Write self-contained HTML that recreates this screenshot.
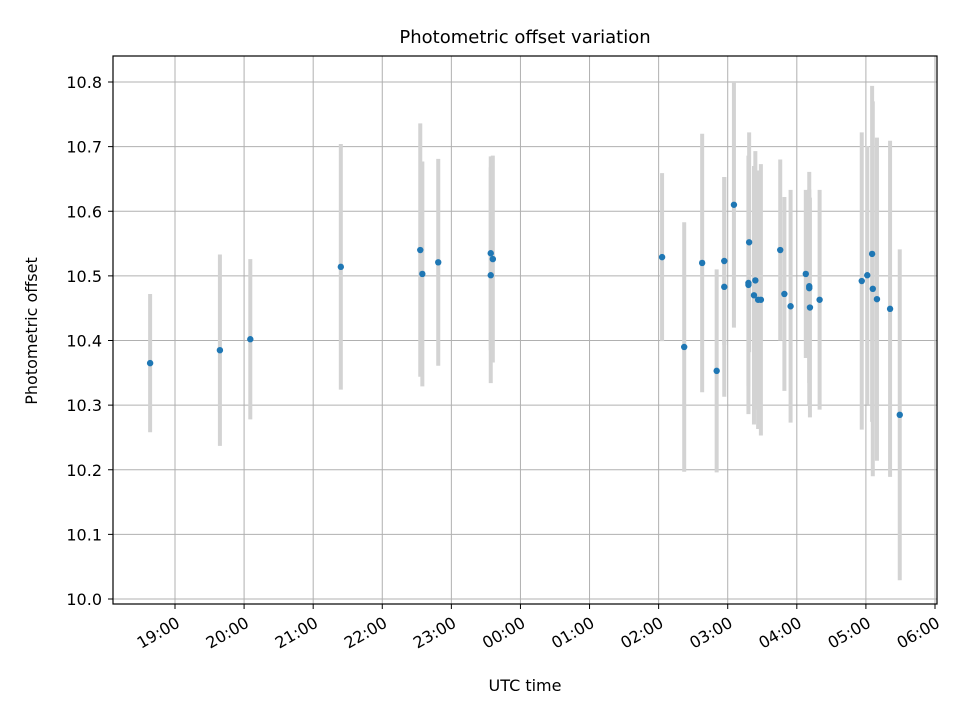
<!DOCTYPE html>
<html><head><meta charset="utf-8"><style>
body{margin:0;background:#fff;}
svg{display:block;font-family:"DejaVu Sans","Liberation Sans",sans-serif;}
</style></head><body>
<svg id="chart" width="960" height="720" viewBox="0 0 960 720">
<rect x="0" y="0" width="960" height="720" fill="#fff"/>
<text x="525" y="43" font-size="18" text-anchor="middle">Photometric offset variation</text>
<text x="525" y="691" font-size="16" text-anchor="middle">UTC time</text>
<text x="37" y="331" font-size="16" text-anchor="middle" transform="rotate(-90 37 331)">Photometric offset</text>
<g id="grid"></g><g id="errs"></g><g id="pts"></g><g id="axes"></g>
</svg>
<script>
const times=[18.64,19.65,20.09,21.40,22.55,22.58,22.81,23.57,23.57,23.60,26.05,26.37,26.63,26.84,26.95,26.95,27.09,27.31,27.30,27.30,27.40,27.38,27.44,27.48,27.76,27.82,27.91,28.13,28.18,28.18,28.19,28.33,28.94,29.02,29.09,29.10,29.16,29.35,29.49];
const values=[10.365,10.385,10.402,10.514,10.540,10.503,10.521,10.535,10.501,10.526,10.529,10.390,10.520,10.353,10.523,10.483,10.610,10.552,10.489,10.486,10.493,10.470,10.463,10.463,10.540,10.472,10.453,10.503,10.484,10.481,10.451,10.463,10.492,10.501,10.534,10.480,10.464,10.449,10.285];
const errors=[0.107,0.148,0.124,0.190,0.196,0.174,0.160,0.150,0.167,0.160,0.130,0.193,0.200,0.157,0.130,0.170,0.190,0.170,0.160,0.200,0.200,0.200,0.200,0.210,0.140,0.150,0.180,0.130,0.150,0.180,0.170,0.170,0.230,0.200,0.260,0.290,0.250,0.260,0.256];
const xTickLabels=["19:00","20:00","21:00","22:00","23:00","00:00","01:00","02:00","03:00","04:00","05:00","06:00"];
const xTickHours=[19,20,21,22,23,24,25,26,27,28,29,30];
const yTicks=[10.0,10.1,10.2,10.3,10.4,10.5,10.6,10.7,10.8];
const L=113,R=937,T=56,B=604;
const xs=h=>175+(h-19)*69.09;
const ys=v=>599-(v-10.0)*646.25;
const NS="http://www.w3.org/2000/svg";
function mk(tag,attrs,parent){const e=document.createElementNS(NS,tag);for(const k in attrs)e.setAttribute(k,attrs[k]);document.getElementById(parent).appendChild(e);return e;}
xTickHours.forEach((h,i)=>{
 const x=xs(h);
 const g=mk('line',{x1:x,x2:x,y1:T,y2:B,stroke:'#b0b0b0','stroke-width':1},'grid');
 
 
 const t=mk('line',{x1:x,x2:x,y1:B,y2:B+5,stroke:'#000','stroke-width':1},'axes');
 
 
 const ax=x+6, ay=B+22;
 const lb=mk('text',{x:ax,y:ay,'font-size':16,'text-anchor':'end',transform:`rotate(-30 ${ax} ${ay})`},'axes');
 lb.textContent=xTickLabels[i];
 
 
});
yTicks.forEach(v=>{
 const y=ys(v);
 const g=mk('line',{x1:L,x2:R,y1:y,y2:y,stroke:'#b0b0b0','stroke-width':1},'grid');
 
 
 const t=mk('line',{x1:L-5,x2:L,y1:y,y2:y,stroke:'#000','stroke-width':1},'axes');
 
 
 const lb=mk('text',{x:L-11,y:y+6,'font-size':16,'text-anchor':'end'},'axes');
 lb.textContent=v.toFixed(1);
 
 
});
const fr=mk('rect',{x:L,y:T,width:R-L,height:B-T,fill:'none',stroke:'#000','stroke-width':1.2},'axes');


times.forEach((h,i)=>{
 const x=xs(h);
 const e=mk('line',{x1:x,x2:x,y1:ys(values[i]+errors[i]),y2:ys(values[i]-errors[i]),stroke:'#d3d3d3','stroke-width':4},'errs');
 
 
 const c=mk('circle',{cx:x,cy:ys(values[i]),r:3.2,fill:'#1f77b4'},'pts');
 
 
});
</script>
</body></html>
